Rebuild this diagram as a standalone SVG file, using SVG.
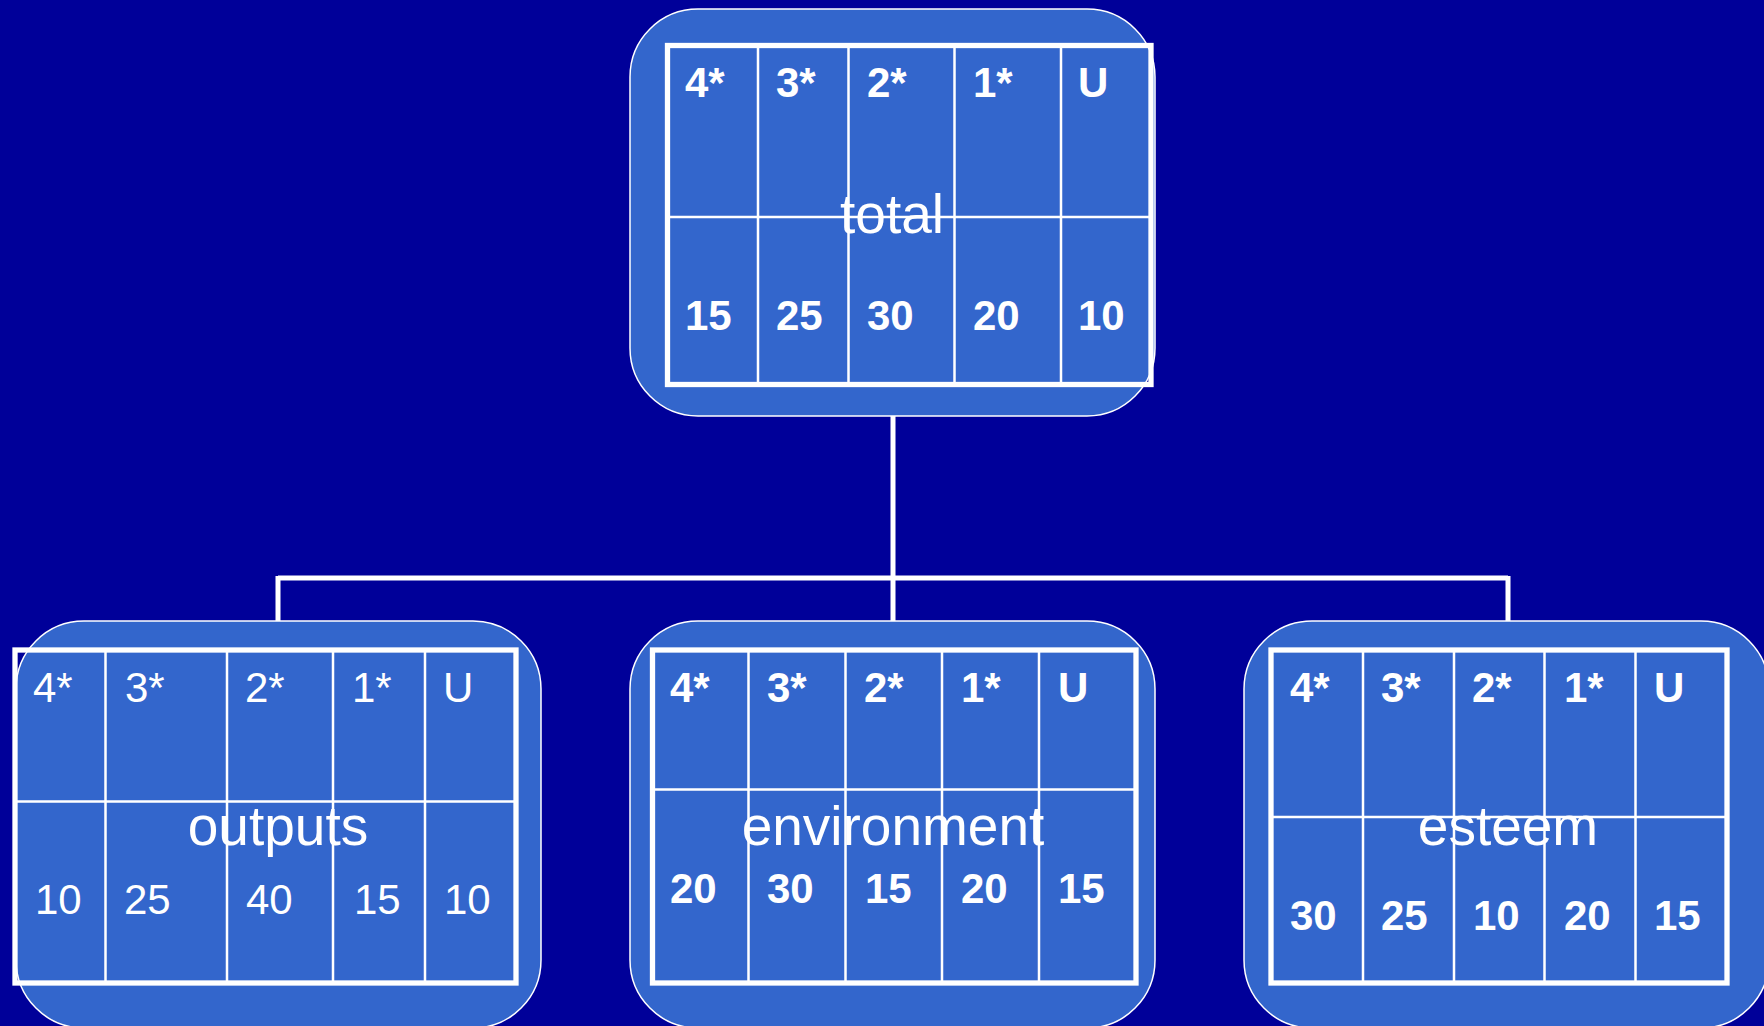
<svg xmlns="http://www.w3.org/2000/svg" width="1764" height="1026" viewBox="0 0 1764 1026">
<style>
.bg{fill:#000099}
.box{fill:#3366CC;stroke:#ffffff;stroke-width:1.5}
.tbl{fill:none;stroke:#ffffff;stroke-width:5.3}
.grid{stroke:#ffffff;stroke-width:2.5;fill:none}
.conn{stroke:#ffffff;stroke-width:5;fill:none}
text{fill:#ffffff;font-family:"Liberation Sans",Arial,Helvetica,sans-serif}
.b{font-size:42px;font-weight:bold}
.r{font-size:42px}
.lbl{font-size:55px;text-anchor:middle}
</style>
<rect class="bg" x="0" y="0" width="1764" height="1026"/>
<g id="connectors">
<path class="conn" d="M893,416 V578 M278,578 H1508 M278,576 V621 M893,578 V621 M1508,576 V621"/>
</g>
<g id="node-total">
<rect class="box" x="630" y="9" width="525" height="407" rx="68" ry="68"/>
<path class="grid" d="M667.5,217 H1151 M758,45.5 V384.5 M848.5,45.5 V384.5 M954.5,45.5 V384.5 M1061,45.5 V384.5"/>
<rect class="tbl" x="667.5" y="45.5" width="483.5" height="339"/>
<text class="b" x="685" y="97">4*</text>
<text class="b" x="776" y="97">3*</text>
<text class="b" x="867" y="97">2*</text>
<text class="b" x="973" y="97">1*</text>
<text class="b" x="1078" y="97">U</text>
<text class="b" x="685" y="330">15</text>
<text class="b" x="776" y="330">25</text>
<text class="b" x="867" y="330">30</text>
<text class="b" x="973" y="330">20</text>
<text class="b" x="1078" y="330">10</text>
<text class="lbl" x="892" y="233">total</text>
</g>
<g id="node-outputs">
<rect class="box" x="16" y="621" width="525" height="407" rx="68" ry="68"/>
<path class="grid" d="M15,801.5 H516 M105.5,650 V983 M227,650 V983 M333,650 V983 M425,650 V983"/>
<rect class="tbl" x="15" y="650" width="501" height="333"/>
<text class="r" x="33" y="702">4*</text>
<text class="r" x="125" y="702">3*</text>
<text class="r" x="245" y="702">2*</text>
<text class="r" x="352" y="702">1*</text>
<text class="r" x="443" y="702">U</text>
<text class="r" x="35" y="914">10</text>
<text class="r" x="124" y="914">25</text>
<text class="r" x="246" y="914">40</text>
<text class="r" x="354" y="914">15</text>
<text class="r" x="444" y="914">10</text>
<text class="lbl" x="278" y="845">outputs</text>
</g>
<g id="node-environment">
<rect class="box" x="630" y="621" width="525" height="407" rx="68" ry="68"/>
<path class="grid" d="M652.5,789.5 H1136 M748.5,650 V983 M845.5,650 V983 M942,650 V983 M1039,650 V983"/>
<rect class="tbl" x="652.5" y="650" width="483.5" height="333"/>
<text class="b" x="670" y="702">4*</text>
<text class="b" x="767" y="702">3*</text>
<text class="b" x="864" y="702">2*</text>
<text class="b" x="961" y="702">1*</text>
<text class="b" x="1058" y="702">U</text>
<text class="b" x="670" y="903">20</text>
<text class="b" x="767" y="903">30</text>
<text class="b" x="865" y="903">15</text>
<text class="b" x="961" y="903">20</text>
<text class="b" x="1058" y="903">15</text>
<text class="lbl" x="893" y="845">environment</text>
</g>
<g id="node-esteem">
<rect class="box" x="1244" y="621" width="525" height="407" rx="68" ry="68"/>
<path class="grid" d="M1271,817 H1727 M1363,650 V983 M1454,650 V983 M1544.5,650 V983 M1635.5,650 V983"/>
<rect class="tbl" x="1271" y="650" width="456" height="333"/>
<text class="b" x="1290" y="702">4*</text>
<text class="b" x="1381" y="702">3*</text>
<text class="b" x="1472" y="702">2*</text>
<text class="b" x="1564" y="702">1*</text>
<text class="b" x="1654" y="702">U</text>
<text class="b" x="1290" y="930">30</text>
<text class="b" x="1381" y="930">25</text>
<text class="b" x="1473" y="930">10</text>
<text class="b" x="1564" y="930">20</text>
<text class="b" x="1654" y="930">15</text>
<text class="lbl" x="1508" y="845">esteem</text>
</g>
</svg>
